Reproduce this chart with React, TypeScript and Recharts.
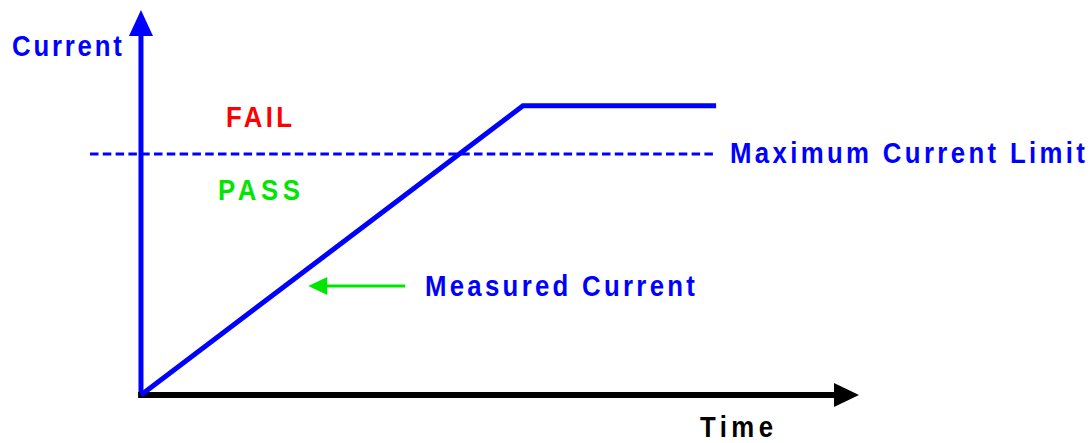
import { LineChart, Line, XAxis, YAxis, ReferenceLine, ReferenceDot } from "recharts";

// measured current trace: ramps up, then flattens out
const timeValues = [0, 53.2, 80.1];
const currentValues = [0, 75.1, 75.1];

// limit line + axis extents (data units)
const currentLimit = 62.6;
const limitFrom = -7.1;
const limitTo = 79.7;
const timeMax = 100;
const currentMax = 100;

const chartData = timeValues.map((t, i) => ({ time: t, current: currentValues[i] }));

const BLUE = "#0000ff";
const RED = "#ff0000";
const GREEN = "#00e600";
const FONT = "'Liberation Sans', Arial, sans-serif";
const SQUEEZE = 0.86; // the original lettering is a narrow face, spaced out

type Dir = "up" | "right" | "left";

// triangle whose tip sits on the reference point
const arrowHead = (dir: Dir, len: number, half: number, fill: string) => (p: any) => {
  const { cx, cy } = p;
  let pts = "";
  if (dir === "up") pts = `${cx},${cy} ${cx - half},${cy + len} ${cx + half},${cy + len}`;
  if (dir === "right") pts = `${cx},${cy} ${cx - len},${cy - half} ${cx - len},${cy + half}`;
  if (dir === "left") pts = `${cx},${cy} ${cx + len},${cy - half} ${cx + len},${cy + half}`;
  return <polygon points={pts} fill={fill} />;
};

const note = (text: string, color: string, width: number) => (p: any) => (
  <text
    transform={`translate(${p.cx},${p.cy}) scale(${SQUEEZE},1)`}
    x={0}
    y={0}
    fill={color}
    fontFamily={FONT}
    fontWeight="bold"
    fontSize={30}
    textLength={width / SQUEEZE}
    lengthAdjust="spacing"
  >
    {text}
  </text>
);

export default function App() {
  return (
    <div style={{ position: "absolute", left: 0, top: 0, background: "#fff" }}>
      <LineChart
        width={1091}
        height={443}
        data={chartData}
        margin={{ top: 10, right: 232, left: 90, bottom: 48 }}
      >
        <XAxis dataKey="time" type="number" domain={[limitFrom, timeMax]} hide />
        <YAxis type="number" domain={[0, currentMax]} hide />

        {/* limit */}
        <ReferenceLine
          segment={[{ x: limitFrom, y: currentLimit }, { x: limitTo, y: currentLimit }]}
          stroke={BLUE}
          strokeWidth={3}
          strokeDasharray="8.5 4.3"
          ifOverflow="visible"
        />

        {/* axes */}
        <ReferenceLine
          segment={[{ x: 0, y: -0.4 }, { x: 0, y: 93.6 }]}
          stroke={BLUE}
          strokeWidth={5}
          ifOverflow="visible"
        />
        <ReferenceDot x={0} y={currentMax} ifOverflow="visible" shape={arrowHead("up", 26, 12, BLUE)} />
        <ReferenceLine
          segment={[{ x: -0.4, y: 0 }, { x: 96.8, y: 0 }]}
          stroke="#000"
          strokeWidth={6}
          ifOverflow="visible"
        />
        <ReferenceDot x={timeMax} y={0} ifOverflow="visible" shape={arrowHead("right", 25, 12, "#000")} />

        <Line
          type="linear"
          dataKey="current"
          stroke={BLUE}
          strokeWidth={5}
          dot={false}
          isAnimationActive={false}
        />

        {/* pointer to the trace */}
        <ReferenceLine
          segment={[{ x: 36.8, y: 28.3 }, { x: 25.6, y: 28.3 }]}
          stroke={GREEN}
          strokeWidth={3}
          ifOverflow="visible"
        />
        <ReferenceDot x={23.3} y={28.3} ifOverflow="visible" shape={arrowHead("left", 19, 9, GREEN)} />

        {/* labels */}
        <ReferenceDot x={-17.97} y={88.05} ifOverflow="visible" shape={note("Current", BLUE, 110)} />
        <ReferenceDot x={11.84} y={69.6} ifOverflow="visible" shape={note("FAIL", RED, 66)} />
        <ReferenceDot x={10.72} y={50.65} ifOverflow="visible" shape={note("PASS", GREEN, 82)} />
        <ReferenceDot x={39.55} y={25.71} ifOverflow="visible" shape={note("Measured Current", BLUE, 270)} />
        <ReferenceDot x={82.03} y={60.26} ifOverflow="visible" shape={note("Maximum Current Limit", BLUE, 355)} />
        <ReferenceDot x={77.86} y={-10.9} ifOverflow="visible" shape={note("Time", "#000", 73)} />
      </LineChart>
    </div>
  );
}
